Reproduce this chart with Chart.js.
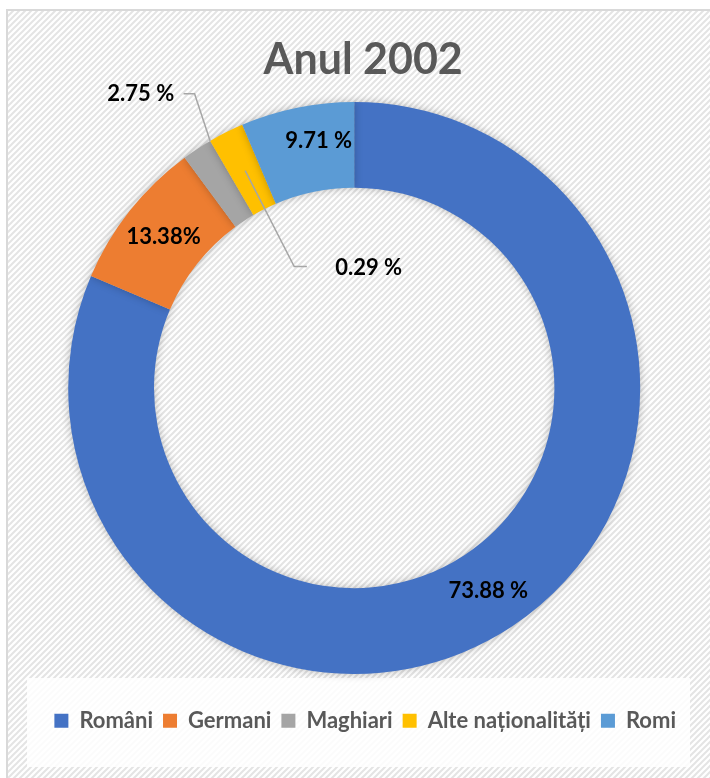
<!DOCTYPE html>
<html>
<head>
<meta charset="utf-8">
<script src="https://cdn.jsdelivr.net/npm/chart.js@4.4.1/dist/chart.umd.min.js"></script>
<style>
  html, body { margin: 0; padding: 0; background: #fff; }
</style>
</head>
<body>
<canvas id="chart" width="710" height="778"></canvas>
<script>
/* global Chart */
// slices, clockwise from 12 o'clock
const categories = ['Români', 'Germani', 'Maghiari', 'Alte naționalități', 'Romi'];
// share of the ring each slice takes in the picture
const shares = [81.4, 8.5, 1.7, 2.0, 6.4];
// label texts exactly as printed on the chart
const labelTexts = ['73.88 %', '13.38%', '2.75 %', '0.29 %', '9.71 %'];
const sliceColors = ['#4472C4', '#ED7D31', '#A5A5A5', '#FFC000', '#5B9BD5'];

(function init() {
  const FONT = 'Lato';

  // where each data label sits; leader labels hang off a point on the arc
  const labelPlacement = [
    { dx: 0, dy: 0 },
    { dx: 0, dy: 0 },
    { leader: true, at: 1, depth: 1, elbow: [-15.6, -47.2], end: [-26.6, -47.2], text: [-36, -46.5], align: 'right' },
    { leader: true, at: 0.5, depth: 0.5, elbow: [49, 95.8], end: [61.7, 95.8], text: [90, 97.4], align: 'left' },
    { dx: 13, dy: -9 },
  ];

  function stripePattern(ctx) {
    const tile = document.createElement('canvas');
    tile.width = 6;
    tile.height = 6;
    const t = tile.getContext('2d');
    t.fillStyle = '#ffffff';
    t.fillRect(0, 0, 6, 6);
    t.strokeStyle = '#e4e4e4';
    t.lineWidth = 2;
    t.beginPath();
    t.moveTo(-1, 7);
    t.lineTo(7, -1);
    t.moveTo(-4, 4);
    t.lineTo(4, -4);
    t.moveTo(2, 10);
    t.lineTo(10, 2);
    t.stroke();
    return ctx.createPattern(tile, 'repeat');
  }

  const backdrop = {
    id: 'backdrop',
    beforeDraw(chart) {
      const { ctx, width, height } = chart;
      ctx.save();
      ctx.fillStyle = '#ffffff';
      ctx.fillRect(0, 0, width, height);
      ctx.fillStyle = stripePattern(ctx);
      ctx.fillRect(7, 10, width, height);
      ctx.strokeStyle = '#d9d9d9';
      ctx.lineWidth = 2;
      ctx.strokeRect(7, 10, width + 10, height + 10);
      // legend panel
      ctx.fillStyle = 'rgba(255,255,255,0.85)';
      ctx.fillRect(27, 678, 663, 89);
      ctx.restore();
    },
    afterLayout(chart) {
      // Excel sits the title and legend a little right of the ring centre
      chart.legend.left += 11;
      chart.legend.right += 11;
      chart.titleBlock.left += 9;
      chart.titleBlock.right += 9;
    },
  };

  const ringShadow = {
    id: 'ringShadow',
    beforeDatasetsDraw(chart) {
      const { ctx } = chart;
      ctx.save();
      ctx.shadowColor = 'rgba(0,0,0,0.25)';
      ctx.shadowBlur = 9;
    },
    afterDatasetsDraw(chart) {
      chart.ctx.restore();
    },
  };

  const sliceLabels = {
    id: 'sliceLabels',
    afterDatasetsDraw(chart) {
      const { ctx } = chart;
      const arcs = chart.getDatasetMeta(0).data;
      ctx.save();
      ctx.font = `bold 22px ${FONT}`;
      ctx.fillStyle = '#000000';
      ctx.textBaseline = 'middle';
      arcs.forEach((arc, i) => {
        const place = labelPlacement[i];
        const text = labelTexts[i];
        if (place.leader) {
          const { x, y, startAngle, endAngle, innerRadius, outerRadius } = arc.getProps(
            ['x', 'y', 'startAngle', 'endAngle', 'innerRadius', 'outerRadius'],
            true
          );
          const a = startAngle + (endAngle - startAngle) * place.at;
          const r = innerRadius + (outerRadius - innerRadius) * place.depth;
          const ax = x + r * Math.cos(a);
          const ay = y + r * Math.sin(a);
          ctx.strokeStyle = '#a6a6a6';
          ctx.lineWidth = 1.5;
          ctx.beginPath();
          ctx.moveTo(ax, ay);
          ctx.lineTo(ax + place.elbow[0], ay + place.elbow[1]);
          ctx.lineTo(ax + place.end[0], ay + place.end[1]);
          ctx.stroke();
          ctx.textAlign = place.align;
          ctx.fillText(text, ax + place.text[0], ay + place.text[1]);
        } else {
          const p = arc.tooltipPosition(true);
          ctx.textAlign = 'center';
          ctx.fillText(text, p.x + place.dx, p.y + place.dy);
        }
      });
      ctx.restore();
    },
  };

  new Chart(document.getElementById('chart'), {
    type: 'doughnut',
    data: {
      labels: categories,
      datasets: [
        {
          data: shares,
          backgroundColor: sliceColors,
          borderWidth: 0,
          radius: 286,
          cutout: '70%',
        },
      ],
    },
    options: {
      responsive: false,
      animation: false,
      events: [],
      layout: { padding: { top: 0, left: 0, right: 1.6, bottom: 36.2 } },
      plugins: {
        tooltip: { enabled: false },
        title: {
          display: true,
          text: 'Anul 2002',
          color: '#595959',
          font: { family: FONT, size: 43, weight: 'bold', lineHeight: 0.75 },
          padding: { top: 43.9, bottom: 0 },
        },
        legend: {
          position: 'bottom',
          labels: {
            boxWidth: 14,
            boxHeight: 14,
            padding: 10,
            color: '#595959',
            font: { family: FONT, size: 22, weight: 'bold' },
          },
        },
      },
    },
    plugins: [backdrop, ringShadow, sliceLabels],
  });
})();
</script>
</body>
</html>
